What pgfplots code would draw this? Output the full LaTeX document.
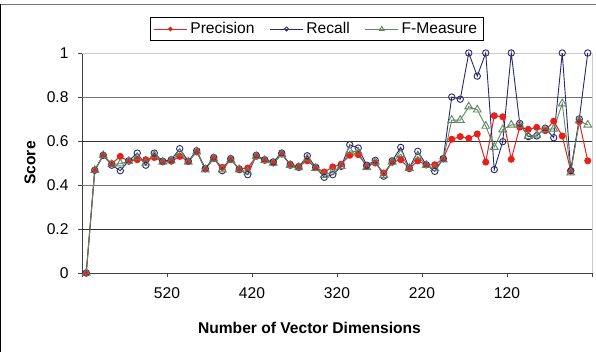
\documentclass[border=0pt]{standalone}
\usepackage{pgfplots}
\usepackage{pgfplotstable}
\pgfplotsset{compat=1.18}
\usepackage{fontspec}
\setmainfont{Liberation Sans}
\definecolor{prec}{RGB}{232,32,28}
\definecolor{rec}{RGB}{40,40,110}
\definecolor{fm}{RGB}{95,135,95}

\pgfplotstableread{
i P R F
0 0 0 0
1 0.467 0.467 0.467
2 0.535 0.535 0.535
3 0.497 0.49 0.493
4 0.53 0.465 0.497
5 0.508 0.51 0.508
6 0.515 0.545 0.525
7 0.515 0.49 0.5
8 0.525 0.545 0.535
9 0.505 0.508 0.505
10 0.508 0.515 0.51
11 0.53 0.565 0.545
12 0.508 0.508 0.505
13 0.55 0.556 0.552
14 0.474 0.474 0.47
15 0.52 0.525 0.52
16 0.48 0.465 0.47
17 0.515 0.52 0.515
18 0.474 0.47 0.47
19 0.477 0.447 0.46
20 0.53 0.535 0.53
21 0.512 0.515 0.512
22 0.5 0.505 0.5
23 0.54 0.545 0.54
24 0.495 0.49 0.49
25 0.485 0.48 0.48
26 0.51 0.533 0.52
27 0.48 0.48 0.477
28 0.459 0.435 0.445
29 0.482 0.447 0.46
30 0.495 0.485 0.485
31 0.535 0.583 0.555
32 0.538 0.568 0.55
33 0.485 0.49 0.48
34 0.5 0.512 0.505
35 0.455 0.44 0.445
36 0.503 0.51 0.505
37 0.515 0.571 0.54
38 0.474 0.477 0.477
39 0.51 0.553 0.53
40 0.492 0.492 0.49
41 0.492 0.462 0.475
42 0.52 0.52 0.515
43 0.608 0.80 0.695
44 0.62 0.79 0.695
45 0.612 1.0 0.756
46 0.632 0.895 0.742
47 0.504 1.0 0.668
48 0.715 0.47 0.572
49 0.71 0.597 0.652
50 0.517 1.0 0.673
51 0.663 0.68 0.673
52 0.653 0.62 0.622
53 0.662 0.623 0.628
54 0.647 0.658 0.653
55 0.69 0.615 0.655
56 0.623 1.0 0.77
57 0.465 0.465 0.456
58 0.688 0.7 0.692
59 0.51 1.0 0.673
}\datatable

\begin{document}
\begin{tikzpicture}[font=\fontsize{15.6bp}{18bp}\selectfont]
\path[use as bounding box] (0bp,0bp) rectangle (596bp,352bp);
\draw[black!55, line width=0.8bp] (0bp,348bp) -- (596bp,348bp);
\draw[black, line width=1.2bp] (0.6bp,0bp) -- (0.6bp,348bp);
\begin{axis}[
  at={(82bp,79bp)}, anchor=south west,
  scale only axis, width=510bp, height=220bp,
  xmin=-0.5, xmax=59.5, ymin=0, ymax=1,
  clip=false,
  axis lines*=left,
  axis line style={black!75, line width=0.8bp},
  xtick={-0.5,9.5,19.5,29.5,39.5,49.5,59.5},
  xticklabels={,520,420,320,220,120,},
  ytick={0,0.2,0.4,0.6,0.8,1},
  yticklabels={0,0.2,0.4,0.6,0.8,1},
  tick align=outside, major tick length=4bp,
  tick style={black!75, line width=0.8bp},
  extra y ticks={0.2,0.6},
  extra y tick labels={},
  extra y tick style={grid=major, major grid style={black!80, line width=0.8bp}},
  ygrid style/.style={},
  xticklabel style={yshift=-7bp},
  yticklabel style={xshift=-6bp},
  xlabel={\bfseries Number of Vector Dimensions},
  every axis x label/.style={at={(axis description cs:0.446,-0.25)}, anchor=center},
  ylabel={\bfseries Score},
  every axis y label/.style={at={(axis description cs:-0.102,0.5)}, anchor=center, rotate=90},
  legend columns=3,
  legend style={at={(axis description cs:0.1333,1.109)}, anchor=west,
    draw=black, line width=0.8bp, fill=white,
    inner xsep=3bp, inner ysep=2bp,
    /tikz/every even column/.append style={column sep=12bp},
    nodes={inner sep=3bp}},
  legend image code/.code={\draw[mark repeat=2, mark phase=2, mark options={scale=0.6}] plot coordinates {(0bp,0bp) (16.5bp,0bp) (33bp,0bp)};},
]
\draw[black!55, line width=0.8bp] (axis cs:-0.5,0.4) -- (axis cs:59.5,0.4);
\draw[black!55, line width=0.8bp] (axis cs:-0.5,0.8) -- (axis cs:59.5,0.8);
\draw[black!20, line width=0.8bp] (rel axis cs:0,1) -- (rel axis cs:1,1) -- (rel axis cs:1,0);
\addplot[prec, line width=1bp, mark=*, mark size=3bp] table[x=i,y=P]{\datatable};
\addlegendentry{Precision}
\addplot[rec, line width=0.9bp, mark=o, mark size=3.2bp] table[x=i,y=R]{\datatable};
\addlegendentry{Recall}
\addplot[fm, line width=0.9bp, mark=triangle, mark size=4.5bp] table[x=i,y=F]{\datatable};
\addlegendentry{F-Measure\hspace{12bp}}
\end{axis}
\end{tikzpicture}
\end{document}
